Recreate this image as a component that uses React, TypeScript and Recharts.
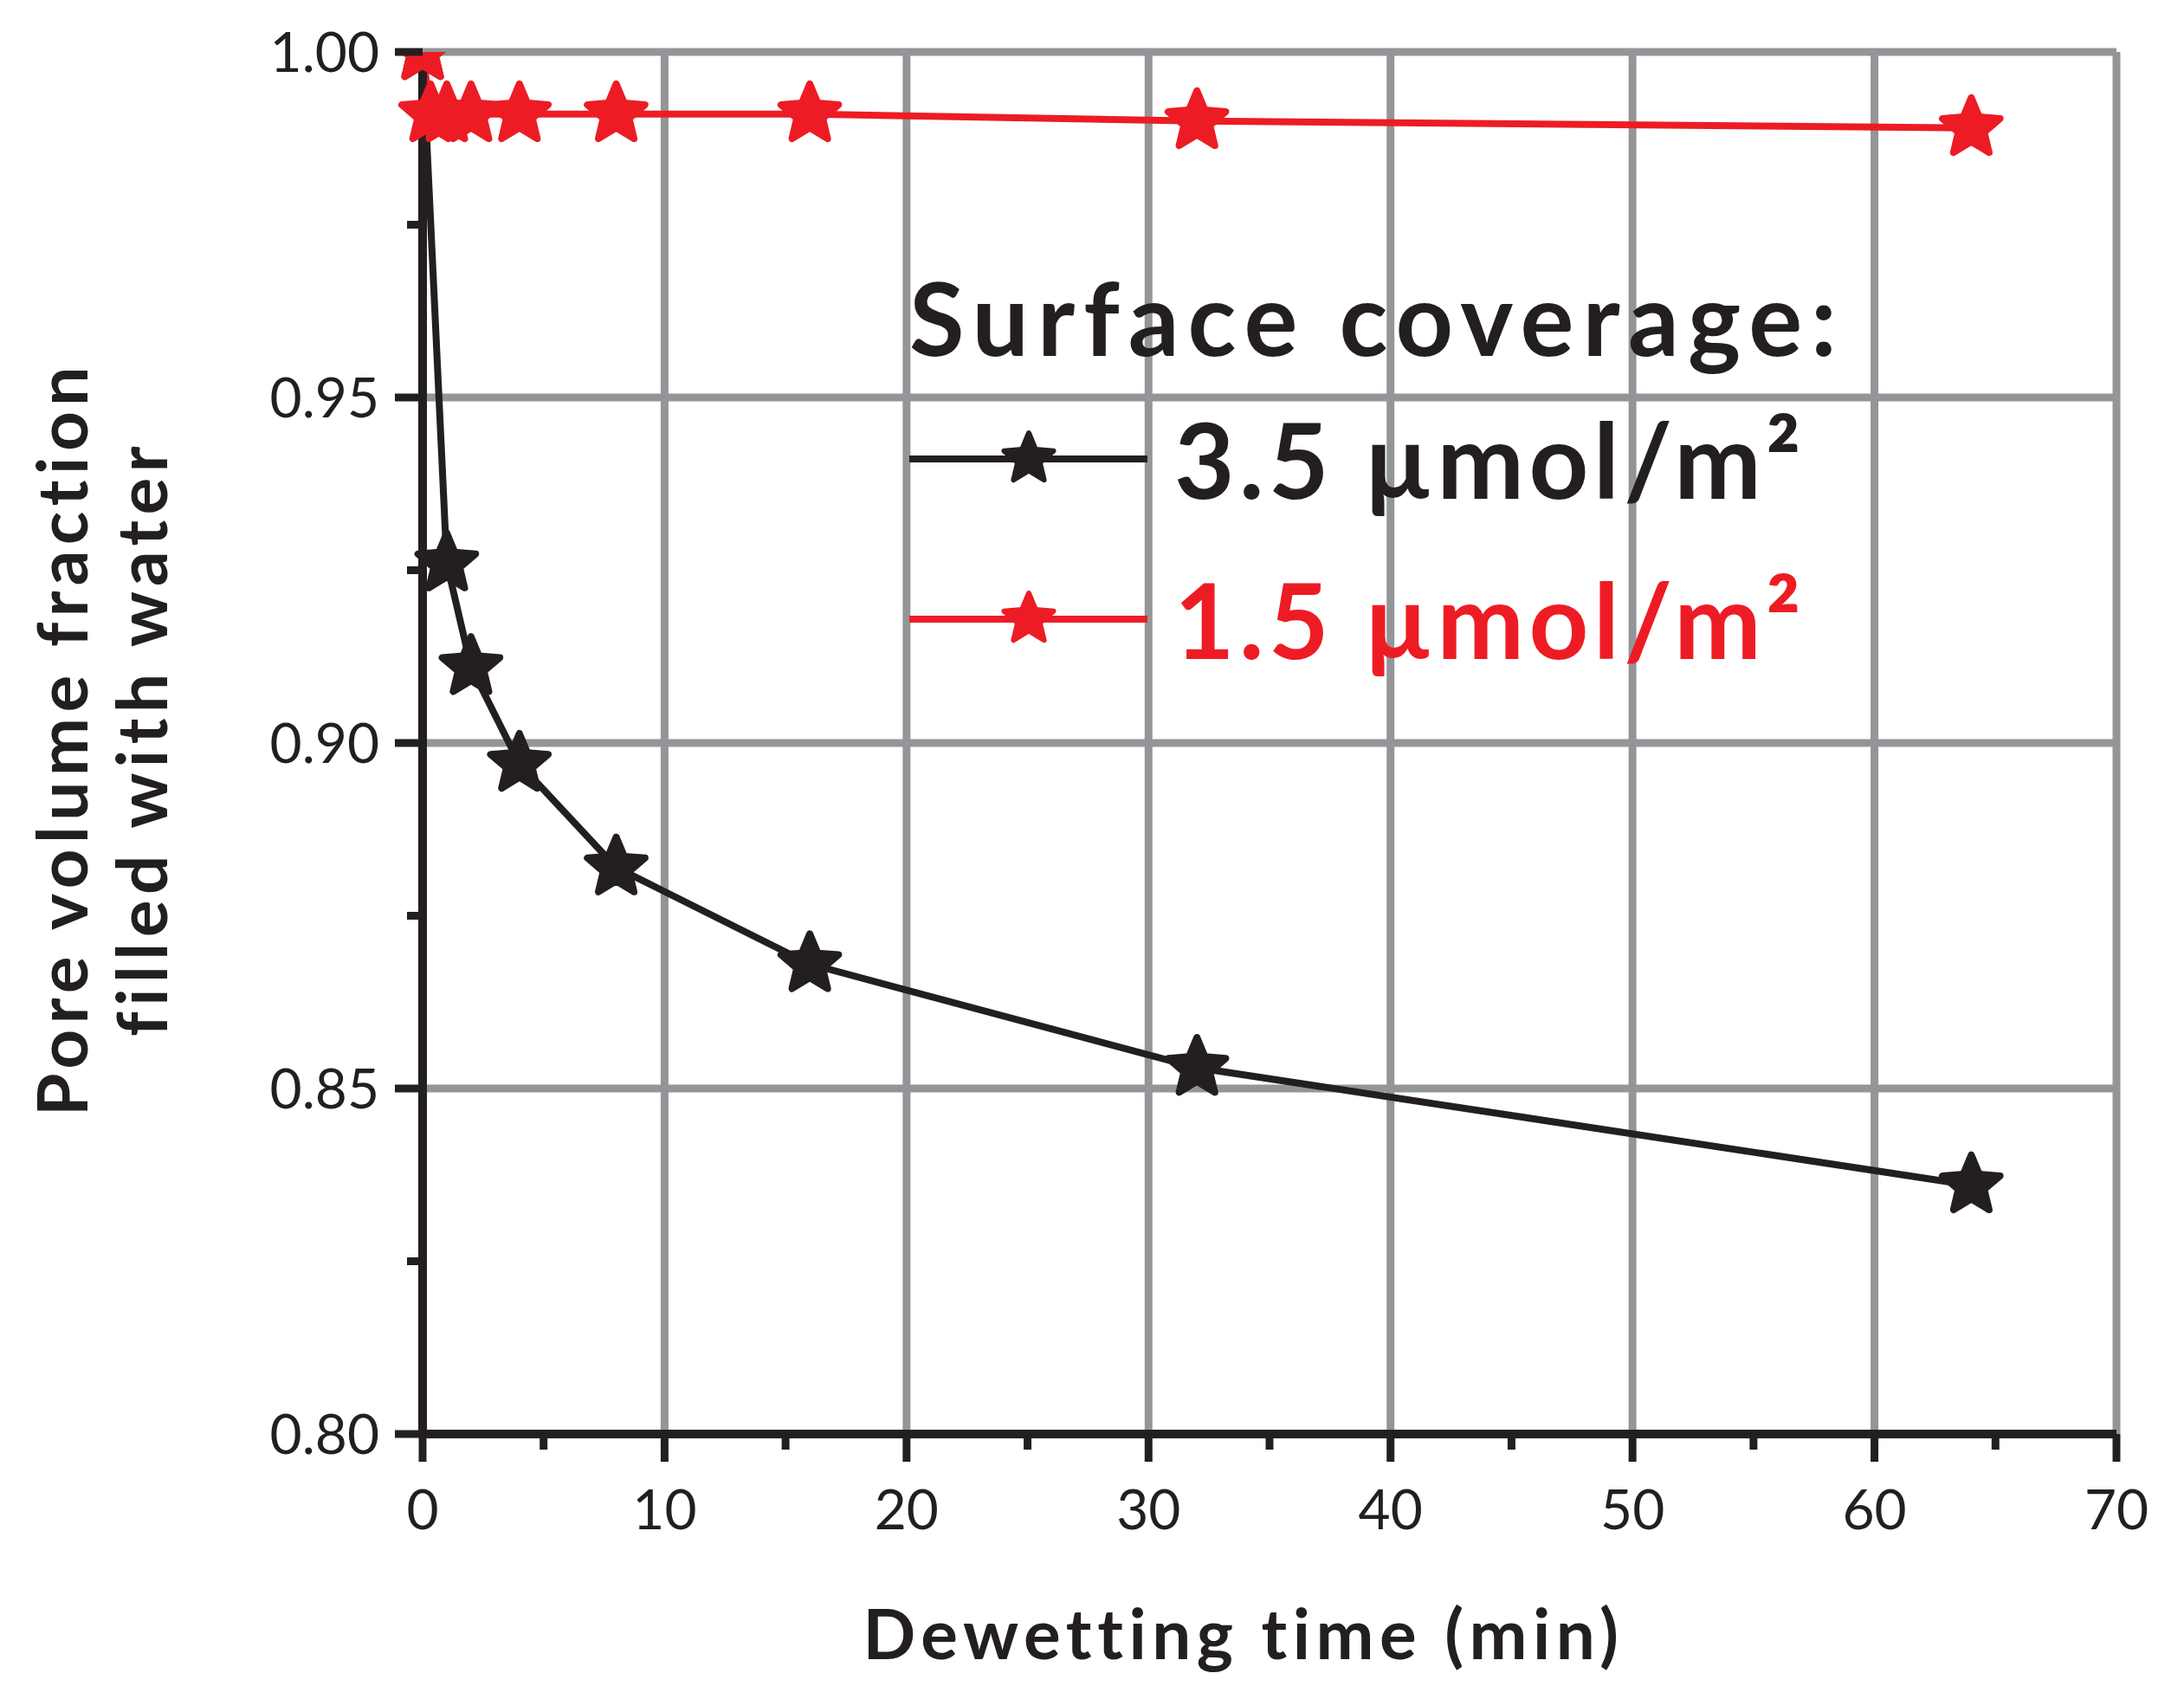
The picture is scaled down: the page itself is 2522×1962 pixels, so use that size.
import React from 'react';
import { LineChart, Line, XAxis, YAxis, CartesianGrid, Legend } from 'recharts';

// dewetting time (min) and pore volume fraction filled with water
const highCoverageTime = [0, 1, 2, 4, 8, 16, 32, 64];
const highCoverageFraction = [1.0, 0.926, 0.911, 0.897, 0.882, 0.868, 0.853, 0.836];
const lowCoverageTime = [0, 0.33, 1, 2, 4, 8, 16, 32, 64];
const lowCoverageFraction = [1.0, 0.991, 0.991, 0.991, 0.991, 0.991, 0.991, 0.99, 0.989];
const seriesNames = ['3.5 µmol/m²', '1.5 µmol/m²'];

const xMajorTicks = [0, 10, 20, 30, 40, 50, 60, 70];
const xMinorTicks = [5, 15, 25, 35, 45, 55, 65];
const yMajorTicks = [0.8, 0.85, 0.9, 0.95, 1.0];
const yMinorTicks = [0.825, 0.875, 0.925, 0.975];

const BLACK = '#231F20';
const RED = '#ED1C24';
const GRID = '#939598';
const FONT = 'Lato, "Open Sans", sans-serif';

const highData = highCoverageTime.map((t, i) => ({ time: t, fraction: highCoverageFraction[i] }));
const lowData = lowCoverageTime.map((t, i) => ({ time: t, fraction: lowCoverageFraction[i] }));

const starPoints = (cx: number, cy: number, r: number) => {
  const pts: string[] = [];
  for (let i = 0; i < 10; i++) {
    const rad = i % 2 === 0 ? r : r * 0.45;
    const a = -Math.PI / 2 + (i * Math.PI) / 5;
    pts.push(`${cx + rad * Math.cos(a)},${cy + rad * Math.sin(a)}`);
  }
  return pts.join(' ');
};

const StarDot = (props: any) => {
  const { cx, cy, color } = props;
  if (cx == null || cy == null) return null;
  return (
    <polygon
      points={starPoints(cx, cy, 35)}
      fill={color}
      stroke={color}
      strokeWidth={8}
      strokeLinejoin="round"
    />
  );
};

const XTick = (props: any) => {
  const { x, y, payload } = props;
  const major = xMajorTicks.includes(payload.value);
  return (
    <g>
      <line x1={x} x2={x} y1={y} y2={y + (major ? 32 : 18)} stroke={BLACK} strokeWidth={9} />
      {major && (
        <text x={x} y={y + 110} textAnchor="middle" fontSize={64} fontFamily={FONT} fill={BLACK}>
          {payload.value}
        </text>
      )}
    </g>
  );
};

const YTick = (props: any) => {
  const { x, y, payload } = props;
  const major = yMajorTicks.some(v => Math.abs(v - payload.value) < 1e-6);
  return (
    <g>
      <line x1={x - (major ? 32 : 18)} x2={x} y1={y} y2={y} stroke={BLACK} strokeWidth={9} />
      {major && (
        <text x={x - 50} y={y} dy="0.36em" textAnchor="end" fontSize={64} fontFamily={FONT} fill={BLACK}>
          {payload.value.toFixed(2)}
        </text>
      )}
    </g>
  );
};

const XTitle = (props: any) => {
  const { viewBox } = props;
  if (!viewBox) return null;
  return (
    <text
      x={viewBox.x + viewBox.width / 2 - 30}
      y={viewBox.y + 260}
      textAnchor="middle"
      fontSize={80}
      fontWeight={700}
      fontFamily={FONT}
      letterSpacing={6.5}
      fill={BLACK}
    >
      Dewetting time (min)
    </text>
  );
};

const YTitle = (props: any) => {
  const { viewBox } = props;
  if (!viewBox) return null;
  const cy = viewBox.y + viewBox.height / 2 - 5;
  const lines = ['Pore volume fraction', 'filled with water'];
  const xs = [viewBox.x + 52, viewBox.x + 144];
  return (
    <g>
      {lines.map((l, i) => (
        <text
          key={l}
          x={xs[i]}
          y={cy}
          transform={`rotate(-90, ${xs[i]}, ${cy})`}
          textAnchor="middle"
          dominantBaseline="central"
          fontSize={80}
          fontWeight={700}
          fontFamily={FONT}
          letterSpacing={6.5}
          fill={BLACK}
        >
          {l}
        </text>
      ))}
    </g>
  );
};

const LegendBox = (props: any) => {
  const items = [...(props.payload || [])].sort(
    (a: any, b: any) => seriesNames.indexOf(a.value) - seriesNames.indexOf(b.value)
  );
  return (
    <div style={{ fontFamily: FONT, fontWeight: 700, whiteSpace: 'nowrap' }}>
      <div style={{ fontSize: 116, lineHeight: '160px', color: BLACK, letterSpacing: 10 }}>
        Surface coverage:
      </div>
      {items.map((entry: any, i: number) => (
        <div
          key={entry.value}
          style={{ display: 'flex', alignItems: 'center', height: 166, marginTop: i === 0 ? 0 : 19 }}
        >
          <svg width={280} height={90} style={{ display: 'block' }}>
            <line x1={0} y1={45} x2={275} y2={45} stroke={entry.color} strokeWidth={8} />
            <polygon
              points={starPoints(138, 45, 30)}
              fill={entry.color}
              stroke={entry.color}
              strokeWidth={6}
              strokeLinejoin="round"
            />
          </svg>
          <span
            style={{ marginLeft: 26, fontSize: 120, color: entry.color, lineHeight: '166px', letterSpacing: 5.5 }}
          >
            {entry.value}
          </span>
        </div>
      ))}
    </div>
  );
};

const gridLine = { stroke: GRID, strokeWidth: 9 };

export default function App() {
  return (
    <div style={{ position: 'absolute', left: 0, top: 0, width: 2522, height: 1962, background: '#fff' }}>
      <LineChart width={2522} height={1962} margin={{ top: 60, right: 78, bottom: 186, left: 18 }}>
        <CartesianGrid
          stroke={GRID}
          strokeWidth={9}
          horizontal={gridLine}
          vertical={gridLine}
          verticalValues={xMajorTicks}
          horizontalValues={yMajorTicks}
        />
        <XAxis
          type="number"
          dataKey="time"
          domain={[0, 70]}
          ticks={[...xMajorTicks, ...xMinorTicks].sort((a, b) => a - b)}
          interval={0}
          height={120}
          tickSize={0}
          tickMargin={0}
          tickLine={false}
          axisLine={{ stroke: BLACK, strokeWidth: 10 }}
          tick={<XTick />}
          label={<XTitle />}
        />
        <YAxis
          type="number"
          dataKey="fraction"
          domain={[0.8, 1.0]}
          allowDataOverflow
          ticks={[...yMajorTicks, ...yMinorTicks].sort((a, b) => a - b)}
          interval={0}
          width={470}
          tickSize={0}
          tickMargin={0}
          tickLine={false}
          axisLine={{ stroke: BLACK, strokeWidth: 10 }}
          tick={<YTick />}
          label={<YTitle />}
        />
        <Legend
          layout="vertical"
          align="center"
          verticalAlign="middle"
          wrapperStyle={{ left: 1050, top: 287 }}
          content={<LegendBox />}
        />
        <Line
          data={highData}
          dataKey="fraction"
          name={seriesNames[0]}
          stroke={BLACK}
          strokeWidth={8}
          dot={<StarDot color={BLACK} />}
          activeDot={false}
          isAnimationActive={false}
        />
        <Line
          data={lowData}
          dataKey="fraction"
          name={seriesNames[1]}
          stroke={RED}
          strokeWidth={8}
          dot={<StarDot color={RED} />}
          activeDot={false}
          isAnimationActive={false}
        />
      </LineChart>
    </div>
  );
}
